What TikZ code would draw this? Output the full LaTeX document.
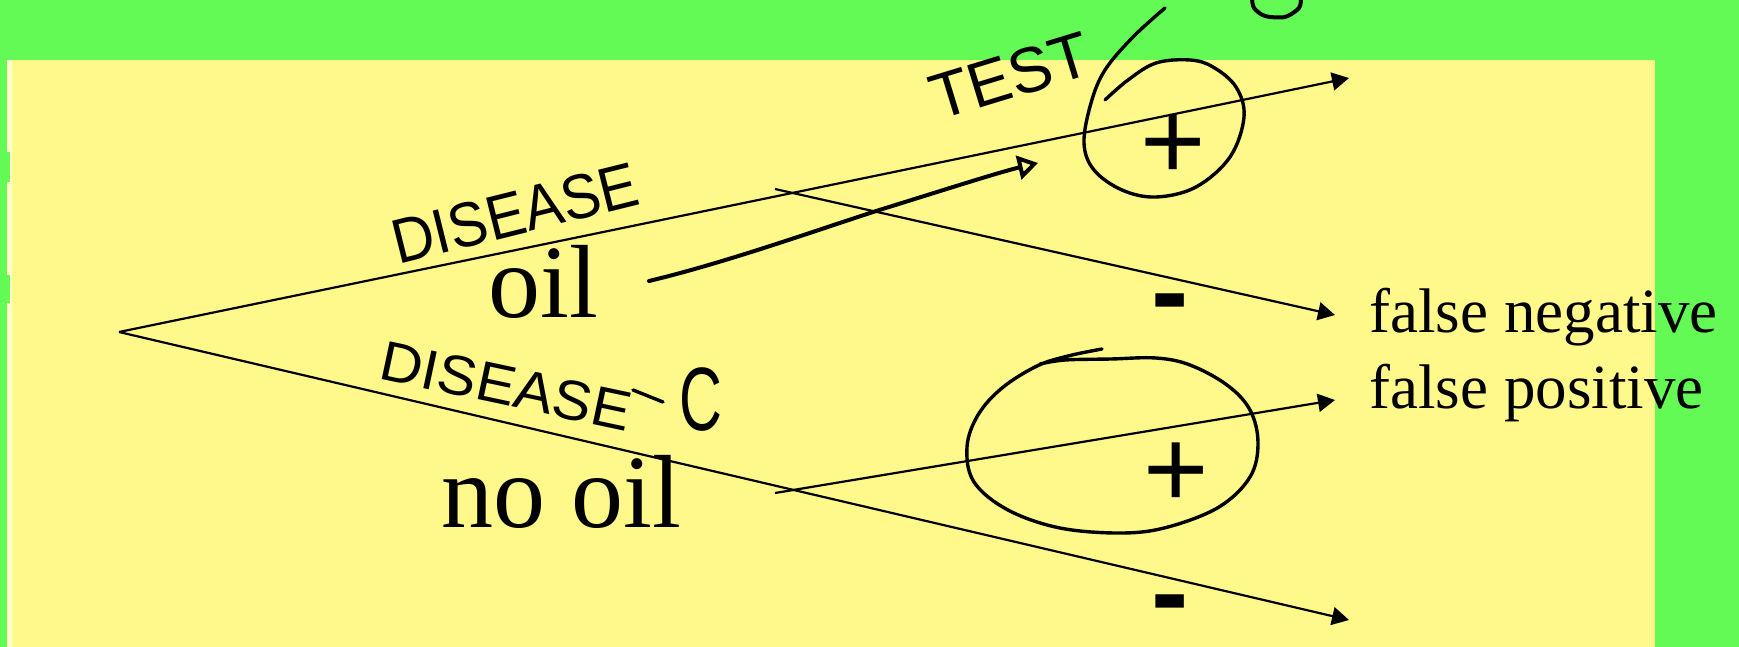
\documentclass[tikz,border=0pt]{standalone}
\usepackage{fontspec}
\setmainfont{Liberation Serif}
\newfontfamily\handfont{Liberation Sans}
\usepackage{tikz}
\usetikzlibrary{arrows.meta}
\definecolor{SlideGreen}{HTML}{64FA55}
\definecolor{SlideYellow}{HTML}{FFF98C}
\definecolor{SlideEdge}{HTML}{FFFCC8}

\begin{document}
\begin{tikzpicture}[
	x=0.5pt, y=-0.5pt,
	branch/.style={-{Triangle[length=8.5pt, width=9pt]}, line width=1.1pt},
	inkline/.style={line width=1.7pt, line cap=round, line join=round},
	choicelbl/.style={anchor=base west, inner sep=0pt, font=\fontsize{52}{52}\selectfont},
	outcomelbl/.style={anchor=base west, inner sep=0pt, font=\fontsize{31.5}{31.5}\selectfont},
	signlbl/.style={inner sep=0pt, font=\handfont\fontsize{56}{56}\selectfont},
	scrawl/.style={inner sep=0pt, font=\handfont\fontsize{#1}{#1}\selectfont}
]
\useasboundingbox (0,0) rectangle (1739,647);
% slide background
\fill[SlideGreen] (0,0) rectangle (1739,647);
\fill[SlideYellow] (7,60) rectangle (1655,647);
\fill[SlideEdge] (7,60) rectangle (12,647);
\fill[SlideGreen] (7,152) rectangle (10,182);
\fill[SlideGreen] (7,275) rectangle (10,303);

% tree points
\coordinate (root) at (119,332);
\coordinate (oiltip) at (1349,78);
\coordinate (nooiltip) at (1349,620);
\coordinate (oilsplit) at (775,189);
\coordinate (fnegtip) at (1335,315);
\coordinate (nooilsplit) at (775,493);
\coordinate (fpostip) at (1335,400);

\node[choicelbl] (oil) at (488,317) {oil};
\node[choicelbl] (nooil) at (441,527) {no oil};
\node[outcomelbl] (fneg) at (1369,332) {false negative};
\node[outcomelbl] (fpos) at ([yshift=-38pt]fneg.base west) {false positive};

\node[signlbl] (oilpos) at (1173,147) {+};
\node[signlbl, font=\handfont\bfseries\fontsize{56}{56}\selectfont] (oilneg) at (1170,312) {-};
\node[signlbl] (nooilpos) at (1176,475) {+};
\node[signlbl, font=\handfont\bfseries\fontsize{56}{56}\selectfont] (nooilneg) at (1170,613) {-};

\draw[branch] (root) -- (oiltip);
\draw[branch] (root) -- (nooiltip);
\draw[branch] (oilsplit) -- (fnegtip);
\draw[branch] (nooilsplit) -- (fpostip);

% handwritten notes
\node[scrawl=31.5, rotate=14, xscale=0.92] (dis) at (515,213) {DISEASE};
\node[scrawl=32, rotate=17] (test) at (1010,76) {TEST};
\node[scrawl=28, rotate=-12, xscale=1.05] (disc) at (506,386) {DISEASE};
\node[scrawl=45, xscale=0.66] (compl) at (701,400) {C};
\draw[inkline] (633,390) -- (663,402);

\coordinate (handfrom) at (649,281);
\coordinate (handto) at (1038,163);
\draw[inkline, line width=2pt, -{Triangle[open, length=10pt, width=12pt]}] (handfrom) .. controls (720,264) and (800,236) .. (873,212) .. controls (950,188) and (1000,172) .. (handto);

\draw[inkline] plot[smooth, tension=0.6] coordinates {(1165,8) (1133,37) (1105,70) (1091,103) (1084,143) (1094,170) (1122,190) (1156,197) (1196,187) (1230,157) (1244,117) (1236,87) (1213,67) (1190,60) (1156,63) (1128,80) (1105,100)};
\draw[inkline] plot[smooth, tension=0.6] coordinates {(1102,349) (1068,356) (1037,366) (1002,388) (978,415) (967,447) (974,482) (1008,510) (1060,528) (1122,533) (1168,527) (1219,507) (1250,477) (1258,443) (1250,410) (1227,385) (1190,365) (1156,358) (1111,359) (1065,360) (1040,364)};
\draw[inkline, line width=2pt] plot[smooth] coordinates {(1301,-2) (1299,8) (1285,17) (1265,16) (1254,8) (1252,-2)};
\end{tikzpicture}
\end{document}
